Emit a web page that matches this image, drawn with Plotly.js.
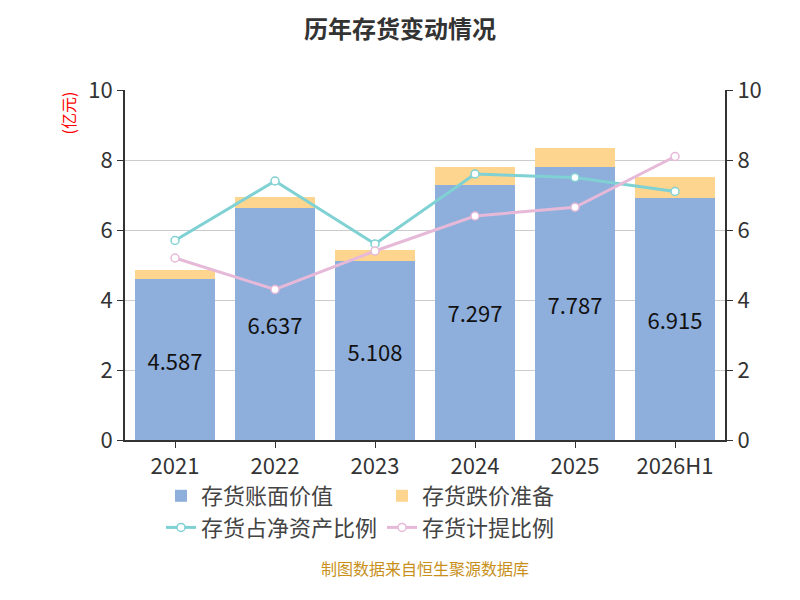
<!DOCTYPE html>
<html><head><meta charset="utf-8">
<script src="https://cdn.plot.ly/plotly-3.0.1.min.js"></script>
<style>body{margin:0}</style></head>
<body><div id="chart" style="width:800px;height:600px"></div>
<script>
var years = ['2021', '2022', '2023', '2024', '2025', '2026H1'];
var bookValue = [4.587, 6.637, 5.108, 7.297, 7.787, 6.915];
var reserve = [0.26, 0.31, 0.31, 0.50, 0.56, 0.60];
var netAssetRatio = [5.7, 7.4, 5.6, 7.6, 7.5, 7.1];
var provisionRatio = [5.2, 4.3, 5.4, 6.4, 6.65, 8.1];

var font = 'Noto Sans CJK SC, sans-serif';
var data = [
  {x: years, y: bookValue, type: 'bar', name: '存货账面价值',
   marker: {color: '#8eaedb'}, text: bookValue.map(function (v) { return v.toFixed(3); }),
   textposition: 'inside', insidetextanchor: 'middle', textfont: {size: 22, color: '#111'}},
  {x: years, y: reserve, type: 'bar', name: '存货跌价准备',
   marker: {color: '#fdd58f'}, hoverinfo: 'y'},
  {x: years, y: netAssetRatio, type: 'scatter', mode: 'lines+markers', name: '存货占净资产比例',
   yaxis: 'y2', line: {color: '#7fd1d3', width: 3},
   marker: {color: '#fff', size: 8, line: {color: '#7fd1d3', width: 1.5}}},
  {x: years, y: provisionRatio, type: 'scatter', mode: 'lines+markers', name: '存货计提比例',
   yaxis: 'y2', line: {color: '#e6b9d9', width: 3},
   marker: {color: '#fff', size: 8, line: {color: '#e6b9d9', width: 1.5}}}
];

var layout = {
  barmode: 'stack', bargap: 0.2,
  width: 800, height: 600,
  font: {family: font, color: '#333'},
  margin: {l: 125, r: 75, t: 90, b: 160},
  title: {text: '<b>历年存货变动情况</b>', x: 0.5, y: 0.965, font: {size: 24, color: '#333'}},
  showlegend: true,
  legend: {orientation: 'h', traceorder: 'normal', x: 0.06, xanchor: 'left', y: -0.1, yanchor: 'top',
           font: {size: 22, color: '#444'}},
  xaxis: {type: 'category', tickfont: {size: 22, color: '#333'}, showline: true, linecolor: '#333', linewidth: 2,
          ticks: 'outside', ticklen: 6, tickcolor: '#333'},
  yaxis: {range: [0, 10], dtick: 2, tickfont: {size: 22, color: '#333'}, gridcolor: '#ccc',
          showline: true, linecolor: '#333', linewidth: 2, ticks: 'outside', ticklen: 6,
          zeroline: false, tickcolor: '#333'},
  yaxis2: {range: [0, 10], dtick: 2, overlaying: 'y', side: 'right', showgrid: false,
           tickfont: {size: 22, color: '#333'}, showline: true, linecolor: '#333', linewidth: 2,
           ticks: 'outside', ticklen: 6, tickcolor: '#333', zeroline: false},
  annotations: [
    {text: '(亿元)', xref: 'paper', yref: 'paper', x: -0.12, y: 1, yanchor: 'top', textangle: -90,
     showarrow: false, font: {size: 16, color: 'red'}},
    {text: '(%)', xref: 'paper', yref: 'paper', x: 1.12, y: 1, textangle: 90,
     showarrow: false, font: {size: 16, color: 'red'}, xanchor: 'left'},
    {text: '制图数据来自恒生聚源数据库', xref: 'paper', yref: 'paper', x: 0.5, y: -0.405,
     showarrow: false, font: {size: 16, color: '#c8901a'}}
  ]
};
Plotly.newPlot('chart', data, layout, {displayModeBar: false});
</script></body></html>
